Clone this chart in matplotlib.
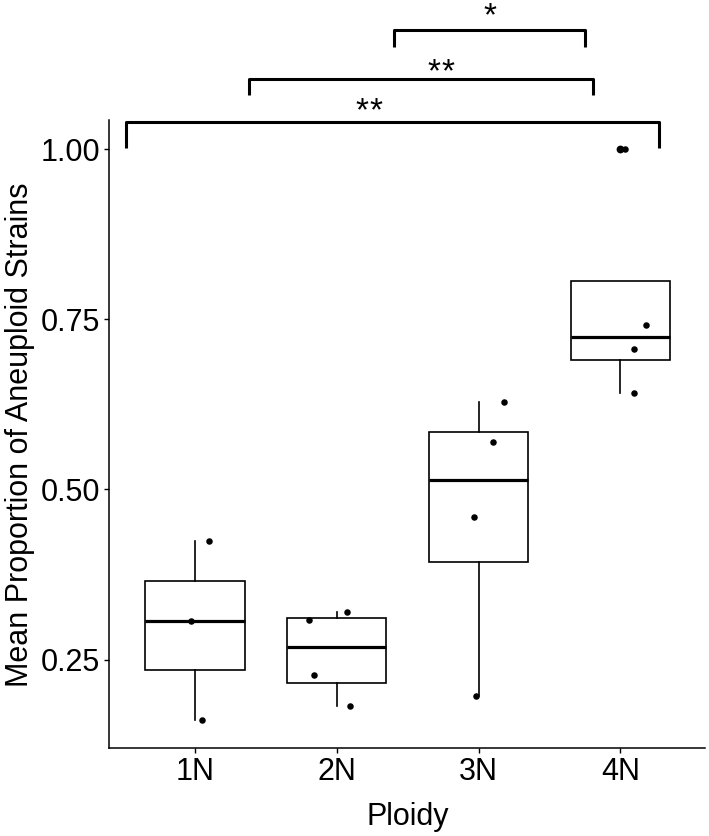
import matplotlib
matplotlib.use("Agg")
import matplotlib.pyplot as plt
import numpy as np

plt.rcParams['font.family'] = ['Liberation Sans', 'DejaVu Sans']

# ---- data ----
categories = ['1N', '2N', '3N', '4N']
vals_1N = [0.424, 0.307, 0.162]
vals_2N = [0.309, 0.320, 0.227, 0.182]
vals_3N = [0.629, 0.570, 0.459, 0.196]
vals_4N = [0.742, 0.707, 0.642, 1.000]
# horizontal jitter of the points
jit_1N = [0.097, -0.030, 0.049]
jit_2N = [-0.195, 0.073, -0.160, 0.092]
jit_3N = [0.181, 0.104, -0.032, -0.016]
jit_4N = [0.179, 0.099, 0.097, 0.030]
# significance comparisons: (left x, right x, bar y, tick-end y)
sig_labels = ['**', '**', '*']
sig_x1 = [0.511, 1.383, 2.403]
sig_x2 = [4.272, 3.809, 3.750]
sig_ybar = [1.0394, 1.103, 1.175]
sig_yend = [1.0012, 1.0795, 1.150]
sig_text_x = [2.224, 2.735, 3.080]
sig_text_y = [1.0429, 1.1002, 1.1824]

groups = [vals_1N, vals_2N, vals_3N, vals_4N]
jitters = [jit_1N, jit_2N, jit_3N, jit_4N]

fig = plt.figure(figsize=(7.09, 8.36), dpi=100)
ax = fig.add_axes([0.1542, 0.10526, 0.8407, 0.7512])

pos = np.arange(1, len(categories) + 1)
ax.boxplot(groups, positions=pos, widths=0.7, patch_artist=True,
           whis=1.5, showcaps=False,
           boxprops=dict(facecolor='white', edgecolor='black', linewidth=1.2),
           whiskerprops=dict(color='black', linewidth=1.2),
           medianprops=dict(color='black', linewidth=2.3),
           flierprops=dict(marker='o', markerfacecolor='black',
                           markeredgecolor='black', markersize=4.6),
           zorder=2)

for p, v, j in zip(pos, groups, jitters):
    ax.scatter(p + np.array(j), v, s=22, color='black', zorder=3,
               linewidths=0)

for x1, x2, yb, ye in zip(sig_x1, sig_x2, sig_ybar, sig_yend):
    ax.plot([x1, x1, x2, x2], [ye, yb, yb, ye], color='black', lw=2.2,
            clip_on=False, solid_joinstyle='round', solid_capstyle='butt',
            zorder=4)

star_gap = 0.05  # spacing between asterisks, in category units
for t, tx, ty in zip(sig_labels, sig_text_x, sig_text_y):
    n = len(t)
    offs = (np.arange(n) - (n - 1) / 2) * star_gap * 2
    for o in offs:
        ax.text(tx + o, ty, '*', ha='center', va='baseline', fontsize=24,
                clip_on=False)

ax.set_xlim(0.3956, 4.599)
ax.set_ylim(0.1203, 1.0427)
ax.set_xticks(pos)
ax.set_xticklabels(categories)
ax.set_yticks([0.25, 0.50, 0.75, 1.00])
ax.set_yticklabels(['0.25', '0.50', '0.75', '1.00'])
ax.tick_params(axis='both', labelsize=22, length=3.6, width=1.0,
               colors='black', pad=3)
for s in ['top', 'right']:
    ax.spines[s].set_visible(False)
for s in ['left', 'bottom']:
    ax.spines[s].set_linewidth(1.1)

fig.text(408 / 709, 1 - 825 / 836, 'Ploidy', ha='center', va='baseline',
         fontsize=22)
fig.text(5 / 709, 1 - 435 / 836, 'Mean Proportion of Aneuploid Strains',
         rotation=90, ha='left', va='center', fontsize=22)

fig.savefig('out.png', dpi=100)
